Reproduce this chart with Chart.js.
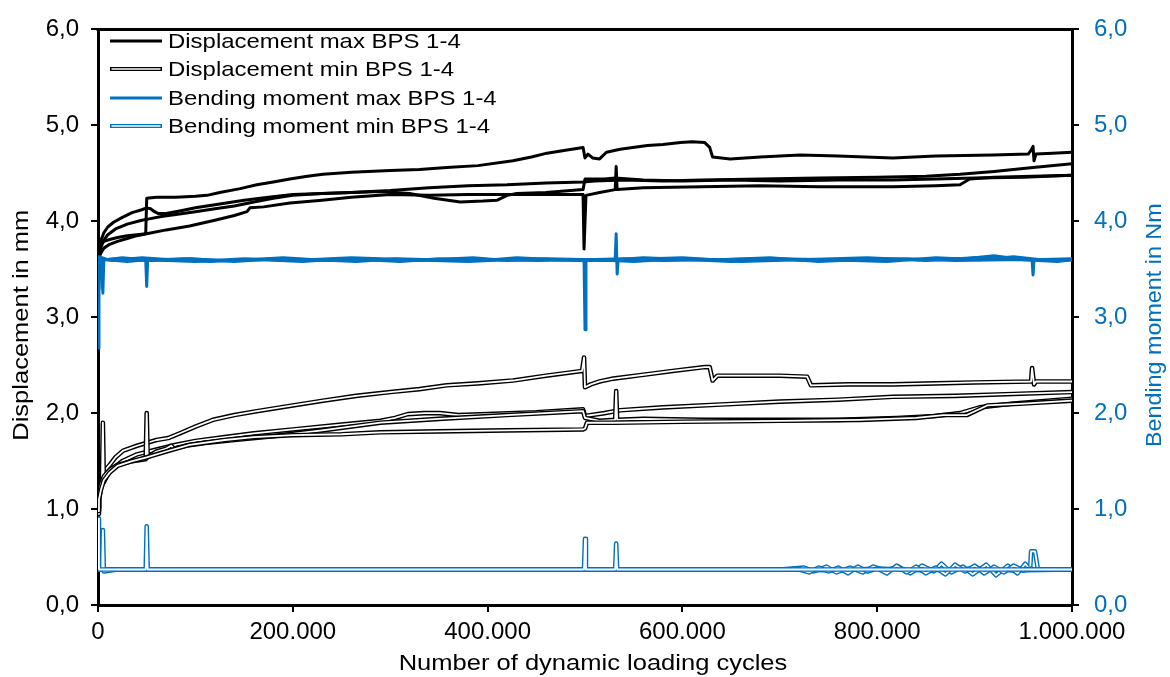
<!DOCTYPE html>
<html>
<head>
<meta charset="utf-8">
<script src="https://cdn.jsdelivr.net/npm/chart.js@4.4.0/dist/chart.umd.min.js"></script>
<style>
  html, body { margin: 0; padding: 0; background: #fff; }
  #wrap { width: 1170px; height: 677px; }
</style>
</head>
<body>
<div id="wrap"><canvas id="c" width="1170" height="677"></canvas></div>
<script>
// Cycles are given in thousands: [kilocycles, value]

// Displacement max (mm), BPS 1-4
const dispMax1 = [[0,3.66],[1,3.72],[3,3.76],[6,3.79],[12,3.81],[20,3.83],[30,3.85],[40,3.86],[49,3.87],[50,4.24],[60,4.25],[80,4.25],[100,4.26],[112,4.27],[125,4.30],[146,4.34],[163,4.38],[180,4.41],[197,4.44],[215,4.47],[231,4.49],[260,4.51],[300,4.53],[330,4.54],[358,4.56],[390,4.58],[426,4.63],[445,4.67],[461,4.71],[480,4.74],[498,4.77],[500,4.66],[503,4.70],[508,4.66],[515,4.65],[522,4.72],[536,4.75],[564,4.79],[580,4.80],[598,4.82],[610,4.83],[623,4.82],[628,4.77],[631,4.67],[649,4.65],[680,4.67],[700,4.68],[721,4.69],[760,4.68],[816,4.66],[860,4.68],[919,4.69],[955,4.70],[958,4.74],[960,4.78],[961,4.63],[963,4.70],[980,4.71],[1000,4.72]];
const dispMax2 = [[0,3.62],[1,3.70],[3,3.80],[6,3.88],[10,3.94],[16,3.99],[25,4.04],[35,4.09],[45,4.12],[50,4.14],[54,4.13],[58,4.10],[62,4.08],[70,4.08],[85,4.11],[100,4.14],[125,4.18],[150,4.22],[175,4.25],[200,4.28],[230,4.29],[260,4.30],[300,4.32],[340,4.35],[380,4.37],[420,4.38],[460,4.40],[498,4.41],[510,4.42],[540,4.43],[580,4.42],[620,4.43],[680,4.44],[740,4.45],[800,4.46],[850,4.47],[885,4.49],[920,4.52],[960,4.56],[1000,4.60]];
const dispMax3 = [[0,3.60],[1,3.66],[3,3.73],[6,3.80],[10,3.86],[18,3.92],[30,3.97],[45,4.01],[50,4.02],[65,4.05],[80,4.07],[100,4.10],[120,4.13],[140,4.16],[160,4.20],[180,4.24],[200,4.27],[230,4.29],[260,4.30],[290,4.31],[320,4.29],[345,4.24],[372,4.20],[395,4.21],[410,4.22],[420,4.27],[430,4.29],[460,4.30],[498,4.33],[500,4.44],[520,4.44],[531,4.45],[560,4.43],[600,4.42],[650,4.43],[700,4.42],[760,4.43],[816,4.43],[860,4.44],[900,4.45],[950,4.46],[1000,4.48]];
const dispMax4 = [[0,3.58],[1,3.62],[3,3.67],[6,3.72],[12,3.76],[20,3.79],[30,3.82],[40,3.85],[50,3.87],[70,3.91],[94,3.95],[120,4.01],[140,4.06],[153,4.10],[156,4.14],[170,4.15],[197,4.19],[230,4.22],[260,4.25],[300,4.28],[340,4.27],[380,4.28],[420,4.28],[460,4.28],[498,4.28],[499,3.71],[501,4.27],[515,4.30],[531,4.33],[532,4.57],[533,4.33],[560,4.35],[620,4.36],[680,4.37],[740,4.36],[816,4.36],[860,4.37],[885,4.38],[895,4.44],[920,4.46],[960,4.47],[1000,4.48]];

// Displacement min (mm), BPS 1-4
const dispMin1 = [[0,1.00],[1,1.12],[2,1.22],[4,1.32],[7,1.40],[12,1.46],[18,1.54],[26,1.61],[40,1.66],[60,1.72],[72,1.74],[84,1.79],[100,1.86],[118,1.93],[140,1.98],[163,2.02],[200,2.08],[231,2.13],[265,2.18],[300,2.22],[330,2.25],[358,2.29],[390,2.31],[426,2.34],[460,2.39],[497,2.44],[499,2.58],[500,2.27],[506,2.30],[515,2.33],[529,2.36],[560,2.40],[590,2.44],[623,2.48],[628,2.48],[631,2.34],[633,2.36],[636,2.39],[660,2.39],[700,2.39],[728,2.38],[732,2.29],[770,2.30],[816,2.30],[860,2.31],[900,2.32],[958,2.33],[959,2.47],[961,2.30],[963,2.33],[1000,2.33]];
const dispMin2 = [[0,0.95],[1,1.10],[3,1.22],[4,1.25],[5,1.90],[6,1.28],[10,1.36],[16,1.43],[25,1.50],[40,1.57],[60,1.62],[80,1.67],[100,1.71],[130,1.75],[160,1.79],[200,1.83],[250,1.88],[290,1.92],[305,1.95],[318,1.99],[335,2.00],[351,2.00],[370,1.98],[400,1.99],[450,2.01],[498,2.04],[500,1.97],[520,2.00],[536,2.03],[580,2.06],[640,2.09],[700,2.12],[760,2.14],[816,2.17],[880,2.18],[940,2.20],[1000,2.22]];
const dispMin3 = [[0,1.02],[1,1.15],[3,1.26],[6,1.34],[12,1.41],[20,1.46],[35,1.50],[49,1.52],[50,2.00],[51,1.54],[60,1.60],[70,1.63],[75,1.66],[78,1.63],[90,1.66],[110,1.69],[140,1.72],[180,1.76],[230,1.82],[290,1.90],[350,1.94],[420,1.98],[498,2.02],[500,1.95],[515,1.92],[531,1.93],[532,2.23],[533,1.93],[560,1.94],[620,1.93],[700,1.93],[760,1.93],[820,1.95],[860,1.97],[885,2.00],[905,2.06],[940,2.10],[1000,2.15]];
const dispMin4 = [[0,0.98],[1,1.10],[3,1.20],[6,1.30],[12,1.38],[20,1.45],[35,1.50],[50,1.54],[70,1.60],[94,1.67],[130,1.72],[160,1.75],[200,1.77],[250,1.78],[290,1.80],[350,1.81],[420,1.82],[498,1.83],[500,1.84],[502,1.90],[530,1.90],[600,1.91],[700,1.92],[782,1.93],[840,1.95],[868,1.98],[892,1.98],[913,2.08],[950,2.10],[1000,2.13]];

// Bending moment max (Nm), BPS 1-4
const bendMax1 = [[0,2.68],[1,3.62],[3,3.60],[5,3.25],[6,3.60],[20,3.61],[40,3.59],[60,3.60],[90,3.61],[130,3.59],[170,3.60],[210,3.58],[250,3.61],[290,3.60],[330,3.59],[370,3.61],[410,3.60],[450,3.59],[499,3.60],[500,2.87],[501,3.60],[540,3.61],[580,3.59],[630,3.60],[680,3.61],[730,3.59],[780,3.60],[830,3.61],[880,3.59],[930,3.60],[1000,3.60]];
const bendMax2 = [[0,3.30],[1,3.63],[10,3.60],[30,3.58],[49,3.60],[50,3.32],[51,3.60],[100,3.58],[150,3.61],[200,3.59],[260,3.62],[320,3.60],[380,3.58],[440,3.61],[498,3.59],[531,3.60],[532,3.87],[533,3.45],[534,3.60],[600,3.62],[660,3.58],[720,3.60],[790,3.62],[850,3.59],[900,3.62],[959,3.60],[960,3.44],[961,3.60],[1000,3.61]];
const bendMax3 = [[0,3.45],[2,3.61],[15,3.59],[45,3.62],[75,3.60],[115,3.58],[155,3.60],[190,3.62],[235,3.59],[275,3.60],[310,3.58],[350,3.61],[395,3.59],[430,3.62],[470,3.60],[520,3.59],[560,3.62],[610,3.60],[650,3.58],[700,3.61],[750,3.60],[810,3.58],[860,3.62],[905,3.60],[940,3.63],[975,3.59],[1000,3.60]];
const bendMax4 = [[0,3.55],[2,3.59],[25,3.62],[55,3.59],[95,3.61],[140,3.58],[180,3.61],[225,3.60],[265,3.58],[305,3.61],[345,3.60],[385,3.62],[420,3.59],[460,3.61],[510,3.60],[550,3.58],[595,3.61],[640,3.60],[690,3.62],[740,3.58],[800,3.61],[845,3.60],[890,3.61],[920,3.64],[950,3.60],[985,3.58],[1000,3.60]];

// Bending moment min (Nm), BPS 1-4
const bendMin1 = [[0,0.90],[1,0.37],[10,0.37],[49,0.37],[50,0.82],[51,0.37],[100,0.37],[200,0.37],[300,0.37],[400,0.37],[499,0.37],[500,0.69],[501,0.37],[531,0.37],[532,0.64],[533,0.37],[600,0.37],[700,0.37],[800,0.37],[900,0.37],[1000,0.37]];
const bendMin2 = [[0,0.37],[4,0.37],[5,0.78],[6,0.35],[20,0.37],[120,0.37],[250,0.37],[380,0.37],[500,0.37],[640,0.37],[700,0.37],[720,0.37],[730,0.34],[740,0.39],[750,0.35],[760,0.39],[770,0.33],[780,0.40],[790,0.35],[800,0.38],[810,0.33],[820,0.41],[830,0.34],[840,0.40],[850,0.33],[860,0.39],[870,0.32],[880,0.42],[890,0.35],[900,0.41],[910,0.33],[920,0.40],[930,0.34],[940,0.41],[950,0.36],[958,0.38],[960,0.37],[1000,0.37]];
const bendMin3 = [[0,0.37],[150,0.37],[300,0.37],[450,0.37],[600,0.37],[700,0.37],[725,0.39],[735,0.35],[748,0.40],[758,0.34],[772,0.39],[785,0.34],[796,0.40],[808,0.36],[822,0.40],[834,0.33],[846,0.41],[858,0.35],[866,0.43],[876,0.34],[888,0.40],[898,0.32],[912,0.42],[922,0.31],[934,0.41],[944,0.33],[952,0.43],[957,0.37],[958,0.56],[962,0.56],[963,0.50],[965,0.37],[1000,0.37]];
const bendMin4 = [[0,0.37],[200,0.37],[400,0.37],[600,0.37],[700,0.37],[760,0.36],[800,0.38],[850,0.36],[900,0.38],[940,0.36],[1000,0.37]];

const xTicks = [0, 200000, 400000, 600000, 800000, 1000000];
const legendLabels = ['Displacement max BPS 1-4', 'Displacement min BPS 1-4', 'Bending moment max BPS 1-4', 'Bending moment min BPS 1-4'];
const titleX = 'Number of dynamic loading cycles';
const titleLeft = 'Displacement in mm';
const titleRight = 'Bending moment in Nm';

const BLACK = '#000000';
const BLUE = '#0070C0';
const FONT = "'Liberation Sans', Arial, sans-serif";

const toXY = arr => arr.map(p => ({ x: p[0] * 1000, y: p[1] }));

function solid(data, color, axis) {
  return { data: toXY(data), borderColor: color, borderWidth: 3, yAxisID: axis,
           pointRadius: 0, tension: 0, fill: false, borderJoinStyle: 'round', borderCapStyle: 'round' };
}
// double line: coloured outline, then a white core painted over it
function doubled(data, color, axis) {
  return [
    { data: toXY(data), borderColor: color, borderWidth: 4.6, yAxisID: axis,
      pointRadius: 0, tension: 0, fill: false, borderJoinStyle: 'round', borderCapStyle: 'round' },
    { data: toXY(data), borderColor: '#ffffff', borderWidth: 1.8, yAxisID: axis,
      pointRadius: 0, tension: 0, fill: false, borderJoinStyle: 'round', borderCapStyle: 'round' }
  ];
}

// listed in painting order; Chart.js paints the last dataset first, so reverse
const paintOrder = [
  solid(dispMax1, BLACK, 'y'), solid(dispMax2, BLACK, 'y'), solid(dispMax3, BLACK, 'y'), solid(dispMax4, BLACK, 'y'),
  ...doubled(dispMin1, BLACK, 'y'), ...doubled(dispMin2, BLACK, 'y'), ...doubled(dispMin3, BLACK, 'y'), ...doubled(dispMin4, BLACK, 'y'),
  solid(bendMax1, BLUE, 'y2'), solid(bendMax2, BLUE, 'y2'), solid(bendMax3, BLUE, 'y2'), solid(bendMax4, BLUE, 'y2'),
  ...doubled(bendMin4, BLUE, 'y2'), ...doubled(bendMin3, BLUE, 'y2'), ...doubled(bendMin2, BLUE, 'y2'), ...doubled(bendMin1, BLUE, 'y2')
];
const datasets = paintOrder.slice().reverse();

const fmtDE = v => String(Math.round(v)).replace(/\B(?=(\d{3})+(?!\d))/g, '.');
const fmtDec = v => v.toFixed(1).replace('.', ',');

// text drawn slightly widened along its reading direction
function wideText(ctx, text, x, y, size, color, angle, stretch, align) {
  ctx.save();
  ctx.translate(x, y);
  ctx.rotate(angle);
  ctx.scale(stretch, 1);
  ctx.font = size + 'px ' + FONT;
  ctx.fillStyle = color;
  ctx.textAlign = align;
  ctx.textBaseline = 'middle';
  ctx.fillText(text, 0, 0);
  ctx.restore();
}

// frame top edge, legend and axis titles
const decor = {
  id: 'decor',
  beforeDatasetsDraw(chart) {
    const { ctx, chartArea: a } = chart;
    ctx.save();
    ctx.strokeStyle = BLACK;
    ctx.lineWidth = 3;
    ctx.beginPath();
    ctx.moveTo(a.left - 1.5, a.top);
    ctx.lineTo(a.right + 1.5, a.top);
    ctx.stroke();
    ctx.restore();
  },
  afterDraw(chart) {
    const { ctx, chartArea: a } = chart;
    const midY = (a.top + a.bottom) / 2;
    const rows = [41, 69, 98, 126];
    const styles = [[BLACK, false], [BLACK, true], [BLUE, false], [BLUE, true]];
    const x0 = 110, x1 = 162;
    ctx.save();
    rows.forEach((y, i) => {
      const [col, dbl] = styles[i];
      ctx.lineCap = 'butt';
      ctx.strokeStyle = col;
      ctx.lineWidth = dbl ? 4 : 3;
      ctx.beginPath(); ctx.moveTo(x0, y); ctx.lineTo(x1, y); ctx.stroke();
      if (dbl) {
        ctx.strokeStyle = '#ffffff';
        ctx.lineWidth = 1.6;
        ctx.beginPath(); ctx.moveTo(x0 + 1.5, y); ctx.lineTo(x1 - 1.5, y); ctx.stroke();
      }
    });
    ctx.restore();
    rows.forEach((y, i) => wideText(ctx, legendLabels[i], 168, y + 1, 21, BLACK, 0, 1.14, 'left'));
    wideText(ctx, titleX, (a.left + a.right) / 2 + 8, 664, 22, BLACK, 0, 1.16, 'center');
    wideText(ctx, titleLeft, 22, midY + 8, 22, BLACK, -Math.PI / 2, 1.16, 'center');
    wideText(ctx, titleRight, 1155, midY + 8, 22, BLUE, -Math.PI / 2, 1.06, 'center');
  }
};

new Chart(document.getElementById('c'), {
  type: 'line',
  data: { datasets },
  plugins: [decor],
  options: {
    responsive: false,
    animation: false,
    devicePixelRatio: 1,
    layout: { padding: { top: 20, left: 0, right: 0, bottom: 0 } },
    plugins: { legend: { display: false }, tooltip: { enabled: false } },
    scales: {
      x: {
        type: 'linear', min: 0, max: 1000000,
        afterBuildTicks: s => { s.ticks = xTicks.map(v => ({ value: v })); },
        afterFit: s => { s.height = 72; },
        border: { color: BLACK, width: 3 },
        grid: { drawOnChartArea: false, drawTicks: true, tickLength: 7, color: BLACK, lineWidth: 2 },
        ticks: { color: BLACK, font: { size: 24, family: FONT }, padding: 6, maxRotation: 0, callback: v => fmtDE(v) },
        title: { display: false }
      },
      y: {
        position: 'left', min: 0, max: 6,
        afterFit: s => { s.width = 98; },
        border: { color: BLACK, width: 3 },
        grid: { drawOnChartArea: false, drawTicks: true, tickLength: 7, color: BLACK, lineWidth: 2 },
        ticks: { stepSize: 1, color: BLACK, font: { size: 24, family: FONT }, padding: 12, callback: v => fmtDec(v) },
        title: { display: false }
      },
      y2: {
        position: 'right', min: 0, max: 6,
        afterFit: s => { s.width = 98; },
        border: { color: BLACK, width: 3 },
        grid: { drawOnChartArea: false, drawTicks: true, tickLength: 7, color: BLACK, lineWidth: 2 },
        ticks: { stepSize: 1, color: BLUE, font: { size: 24, family: FONT }, padding: 15, callback: v => fmtDec(v) },
        title: { display: false }
      }
    }
  }
});
</script>
</body>
</html>
